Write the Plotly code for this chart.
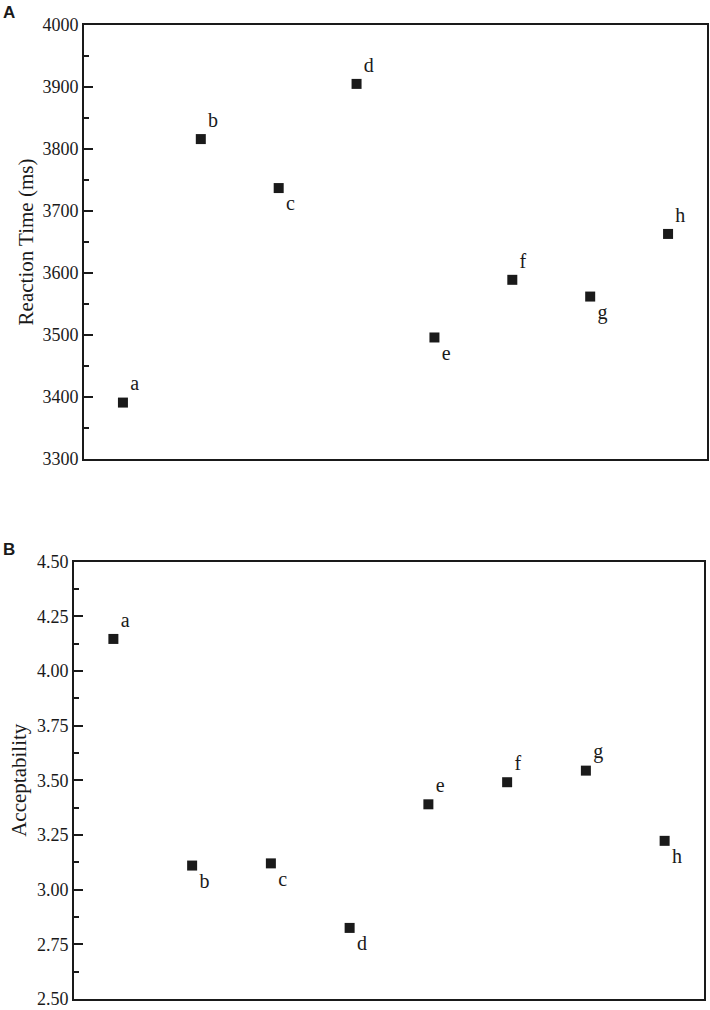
import plotly.graph_objects as go

# ---- data ----
conditions = ["a", "b", "c", "d", "e", "f", "g", "h"]
x_pos = [1, 2, 3, 4, 5, 6, 7, 8]
reaction_time = [3391, 3816, 3737, 3905, 3496, 3589, 3562, 3663]
acceptability = [4.146, 3.11, 3.12, 2.825, 3.39, 3.491, 3.544, 3.223]
rt_label_pos = ["top right", "top right", "bottom right", "top right",
                "bottom right", "top right", "bottom right", "top right"]
acc_label_pos = ["top right", "bottom right", "bottom right", "bottom right",
                 "top right", "top right", "top right", "bottom right"]
rt_ticks = [3300, 3400, 3500, 3600, 3700, 3800, 3900, 4000]
acc_ticks = [2.50, 2.75, 3.00, 3.25, 3.50, 3.75, 4.00, 4.25, 4.50]

W, H = 710, 1010
SERIF = "Liberation Serif, Times New Roman, serif"
SANS = "Liberation Sans, Arial, sans-serif"
INK = "#1a1a1a"

fig = go.Figure()

fig.add_trace(go.Scatter(
    x=x_pos, y=reaction_time, mode="markers+text", text=conditions,
    textposition=rt_label_pos, textfont=dict(family=SERIF, size=20, color=INK),
    marker=dict(symbol="square", size=10, color=INK),
    xaxis="x", yaxis="y", showlegend=False, cliponaxis=False))

fig.add_trace(go.Scatter(
    x=x_pos, y=acceptability, mode="markers+text", text=conditions,
    textposition=acc_label_pos, textfont=dict(family=SERIF, size=20, color=INK),
    marker=dict(symbol="square", size=10, color=INK),
    xaxis="x2", yaxis="y2", showlegend=False, cliponaxis=False))

axis_common = dict(showline=True, linecolor=INK, linewidth=2, mirror=True,
                   showgrid=False, zeroline=False, automargin=False)

fig.update_layout(
    width=W, height=H,
    margin=dict(l=0, r=0, t=0, b=0, autoexpand=False),
    paper_bgcolor="white", plot_bgcolor="white",
    font=dict(family=SERIF, color=INK),
    xaxis=dict(domain=[84 / W, 707 / W], range=[0.5, 8.5], showticklabels=False,
               ticks="", anchor="y", **axis_common),
    yaxis=dict(domain=[1 - 459 / H, 1 - 25 / H], range=[3300, 4000],
               tickvals=rt_ticks, ticktext=[str(v) for v in rt_ticks],
               ticks="inside", ticklen=9, tickwidth=2, tickcolor=INK,
               ticklabeloverflow="allow",
               minor=dict(ticks="inside", ticklen=5, tickwidth=1.5, tickcolor=INK, dtick=50),
               tickfont=dict(family=SERIF, size=18, color=INK),
               title=dict(text="Reaction Time (ms)", font=dict(family=SERIF, size=21, color=INK),
                          standoff=3),
               anchor="x", **axis_common),
    xaxis2=dict(domain=[74 / W, 704 / W], range=[0.5, 8.5], showticklabels=False,
                ticks="", anchor="y2", **axis_common),
    yaxis2=dict(domain=[1 - 999 / H, 1 - 561.5 / H], range=[2.5, 4.5],
                tickvals=acc_ticks, ticktext=[f"{v:.2f}" for v in acc_ticks],
                ticks="inside", ticklen=9, tickwidth=2, tickcolor=INK,
                ticklabeloverflow="allow",
                minor=dict(ticks="inside", ticklen=5, tickwidth=1.5, tickcolor=INK, dtick=0.125),
                tickfont=dict(family=SERIF, size=18, color=INK),
                title=dict(text="Acceptability", font=dict(family=SERIF, size=21, color=INK),
                           standoff=5),
                anchor="x2", **axis_common),
    annotations=[
        dict(text="<b>A</b>", x=1 / W, y=1 - 1 / H, xref="paper", yref="paper",
             xanchor="left", yanchor="top", showarrow=False,
             font=dict(family=SANS, size=17, color=INK)),
        dict(text="<b>B</b>", x=1 / W, y=1 - 538 / H, xref="paper", yref="paper",
             xanchor="left", yanchor="top", showarrow=False,
             font=dict(family=SANS, size=17, color=INK)),
    ],
)

fig.write_html("out.html")
